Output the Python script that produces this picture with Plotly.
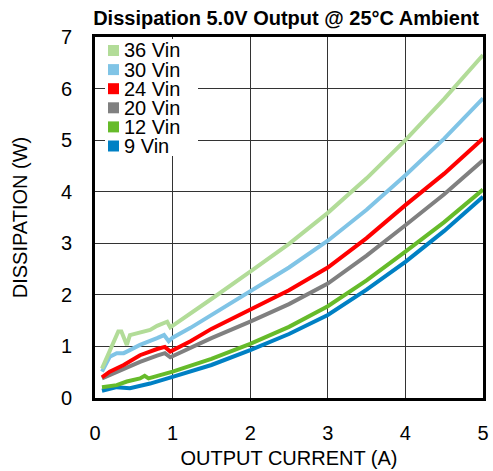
import plotly.graph_objects as go

names = ["36 Vin", "30 Vin", "24 Vin", "20 Vin", "12 Vin", "9 Vin"]
colors = ["#b2dc98", "#80c4e6", "#ff0000", "#808080", "#66bb2a", "#0080c4"]

x36 = [0.09, 0.19, 0.30, 0.34, 0.41, 0.45, 0.58, 0.71, 0.80, 0.93, 0.97, 1.0, 1.23, 1.5, 2.0, 2.5, 3.0, 3.5, 4.0, 4.5, 5.0]
y36 = [0.57, 0.93, 1.29, 1.29, 1.03, 1.22, 1.27, 1.32, 1.40, 1.48, 1.37, 1.40, 1.63, 1.92, 2.45, 2.99, 3.59, 4.26, 5.00, 5.80, 6.65]

x30 = [0.09, 0.19, 0.28, 0.37, 0.41, 0.58, 0.80, 0.89, 0.95, 1.0, 1.23, 1.5, 2.0, 2.5, 3.0, 3.5, 4.0, 4.5, 5.0]
y30 = [0.51, 0.80, 0.87, 0.87, 0.90, 1.03, 1.16, 1.22, 1.10, 1.17, 1.36, 1.61, 2.06, 2.53, 3.05, 3.65, 4.32, 5.03, 5.81]

x24 = [0.09, 0.19, 0.37, 0.43, 0.58, 0.80, 0.90, 0.97, 1.23, 1.5, 2.0, 2.5, 3.0, 3.5, 4.0, 4.5, 5.0]
y24 = [0.40, 0.51, 0.64, 0.70, 0.83, 0.95, 0.99, 0.90, 1.10, 1.34, 1.71, 2.09, 2.53, 3.10, 3.74, 4.35, 5.03]

x20 = [0.09, 0.37, 0.58, 0.80, 0.90, 0.97, 1.23, 1.5, 2.0, 2.5, 3.0, 3.5, 4.0, 4.5, 5.0]
y20 = [0.38, 0.56, 0.70, 0.82, 0.87, 0.79, 0.97, 1.16, 1.48, 1.82, 2.22, 2.76, 3.35, 3.95, 4.61]

x12 = [0.09, 0.28, 0.41, 0.58, 0.64, 0.69, 1.0, 1.23, 1.5, 2.0, 2.5, 3.0, 3.5, 4.0, 4.5, 5.0]
y12 = [0.21, 0.25, 0.32, 0.38, 0.43, 0.38, 0.51, 0.62, 0.76, 1.05, 1.38, 1.78, 2.28, 2.84, 3.41, 4.04]

x9 = [0.09, 0.28, 0.45, 0.71, 1.0, 1.23, 1.5, 2.0, 2.5, 3.0, 3.5, 4.0, 4.5, 5.0]
y9 = [0.14, 0.21, 0.19, 0.28, 0.41, 0.51, 0.64, 0.93, 1.24, 1.61, 2.10, 2.64, 3.24, 3.90]

xs = [x36, x30, x24, x20, x12, x9]
ys = [y36, y30, y24, y20, y12, y9]

x_ticks = [0, 1, 2, 3, 4, 5]
y_ticks = [0, 1, 2, 3, 4, 5, 6, 7]

FONT = "Liberation Sans, Arial, sans-serif"
W, H = 493, 471
ML, MR, MT, MB = 95, 10, 37, 73
PW, PH = W - ML - MR, H - MT - MB


def px_x(p):  # page pixel -> paper x
    return (p - ML) / PW


def px_y(p):  # page pixel -> paper y
    return 1 - (p - MT) / PH


fig = go.Figure()
for name, col, x, y in reversed(list(zip(names, colors, xs, ys))):
    fig.add_trace(go.Scatter(x=x, y=y, mode="lines", name=name,
                             line=dict(color=col, width=4),
                             showlegend=False, hoverinfo="skip"))

# legend box (white, hides gridlines) and entries
shapes = [dict(type="rect", xref="paper", yref="paper",
               x0=px_x(105), x1=px_x(198), y0=px_y(156), y1=px_y(39),
               fillcolor="white", line=dict(width=0), layer="above")]
annotations = []
row0, step = 50.5, 19.1
for i, (name, col) in enumerate(zip(names, colors)):
    cy = row0 + i * step
    shapes.append(dict(type="rect", xref="paper", yref="paper",
                       x0=px_x(108), x1=px_x(119), y0=px_y(cy + 5.5), y1=px_y(cy - 5.5),
                       fillcolor=col, line=dict(width=0), layer="above"))
    annotations.append(dict(text=name, xref="paper", yref="paper",
                            x=px_x(122), y=px_y(cy), xanchor="left", yanchor="middle",
                            height=18, valign="middle",
                            showarrow=False, font=dict(size=20, family=FONT, color="black")))

fig.update_layout(
    width=W, height=H,
    margin=dict(l=ML, r=MR, t=MT, b=MB),
    paper_bgcolor="white", plot_bgcolor="white",
    font=dict(family=FONT, size=20, color="black"),
    title=dict(text="<b>Dissipation 5.0V Output @ 25°C Ambient</b>",
               x=px_x(286), xref="paper", xanchor="center",
               y=1 - 18 / H, yref="container", yanchor="middle",
               font=dict(size=20, family=FONT, color="black")),
    showlegend=False,
    shapes=shapes,
    annotations=annotations,
)
fig.update_xaxes(range=[0, 5], tickvals=x_ticks, ticktext=[str(v) for v in x_ticks],
                 showgrid=True, gridcolor="#333333", gridwidth=1,
                 showline=True, linecolor="black", linewidth=3, mirror=True,
                 ticks="", ticklabelstandoff=15, zeroline=False, automargin=False,
                 title=dict(text="OUTPUT CURRENT (A)", standoff=8,
                            font=dict(size=20, family=FONT)))
fig.update_yaxes(range=[0, 7], tickvals=y_ticks, ticktext=[str(v) for v in y_ticks],
                 showgrid=True, gridcolor="#333333", gridwidth=1,
                 showline=True, linecolor="black", linewidth=3, mirror=True,
                 ticks="", ticklabelstandoff=16, zeroline=False, automargin=False,
                 title=dict(text="DISSIPATION (W)", standoff=28,
                            font=dict(size=20, family=FONT)))

fig.write_html("out.html", post_script="document.body.style.margin='0';",
               config={"displayModeBar": False})
